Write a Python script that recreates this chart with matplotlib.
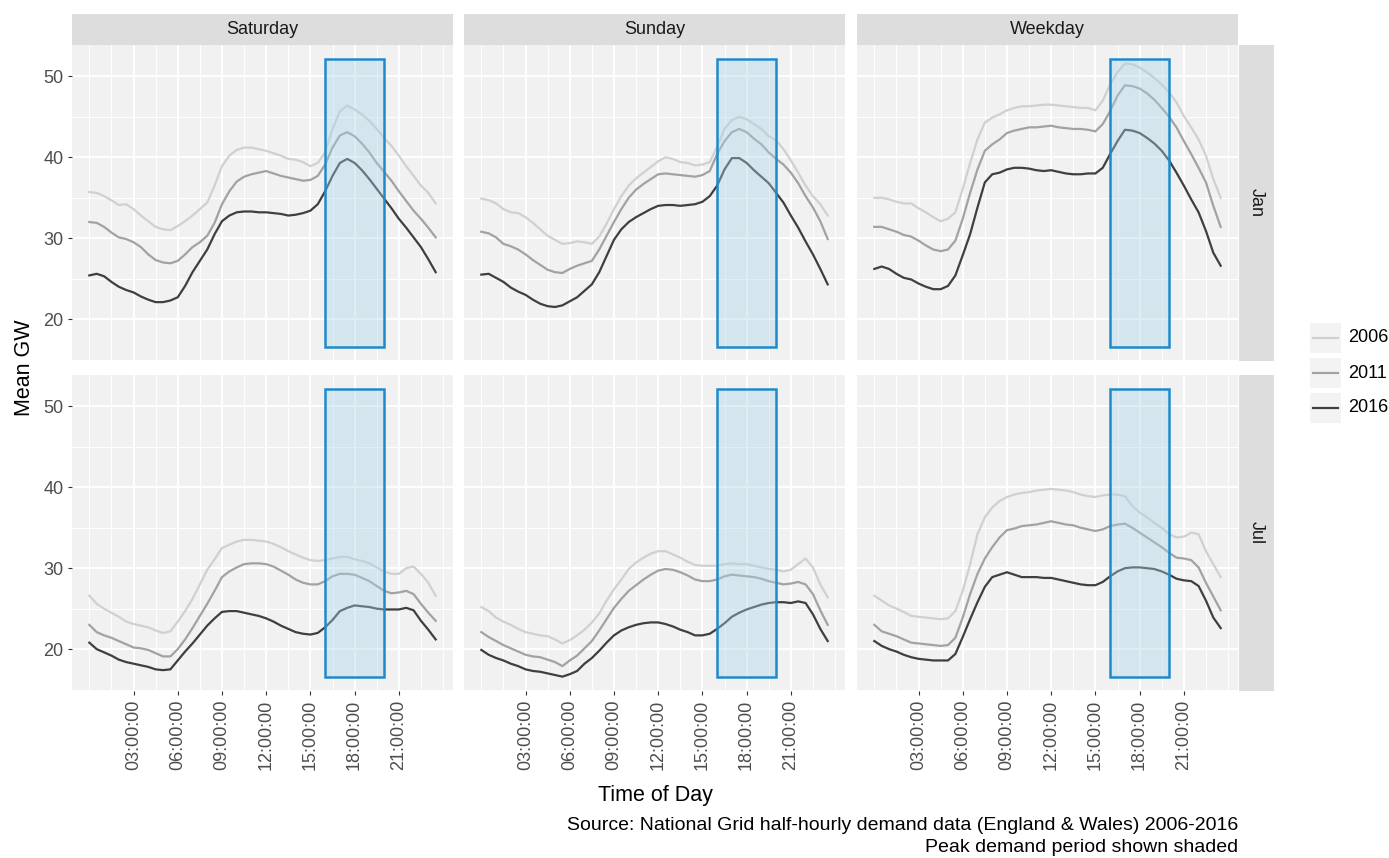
import numpy as np
import matplotlib
matplotlib.use("Agg")
import matplotlib.pyplot as plt
from matplotlib.patches import Rectangle

# half-hourly time of day (hours), 00:00 .. 23:30
hours = np.arange(0, 24, 0.5)

days = ["Saturday", "Sunday", "Weekday"]
months = ["Jan", "Jul"]
years = ["2006", "2011", "2016"]

# mean GW
sat_jan_2006 = [35.7, 35.6, 35.2, 34.7, 34.1, 34.2, 33.6, 32.8, 32.1, 31.4, 31.1, 31.0, 31.5, 32.1, 32.8, 33.6,
                34.4, 36.5, 38.9, 40.2, 40.9, 41.2, 41.2, 41.0, 40.8, 40.5, 40.2, 39.8, 39.7, 39.4, 38.9, 39.3,
                40.6, 43.5, 45.7, 46.4, 45.9, 45.3, 44.5, 43.5, 42.4, 41.4, 40.2, 38.9, 37.7, 36.5, 35.6, 34.3]
sat_jan_2011 = [32.0, 31.9, 31.4, 30.7, 30.1, 29.9, 29.5, 28.9, 28.0, 27.3, 27.0, 26.9, 27.2, 28.0, 28.9, 29.5,
                30.3, 31.9, 34.2, 35.8, 37.0, 37.6, 37.9, 38.1, 38.3, 38.0, 37.7, 37.5, 37.3, 37.1, 37.2, 37.7,
                39.1, 41.2, 42.7, 43.1, 42.6, 41.7, 40.6, 39.3, 38.2, 37.1, 35.8, 34.6, 33.4, 32.4, 31.3, 30.1]
sat_jan_2016 = [25.4, 25.6, 25.3, 24.6, 24.0, 23.6, 23.3, 22.8, 22.4, 22.1, 22.1, 22.3, 22.7, 24.1, 25.8, 27.2,
                28.6, 30.5, 32.1, 32.8, 33.2, 33.3, 33.3, 33.2, 33.2, 33.1, 33.0, 32.8, 32.9, 33.1, 33.4, 34.2,
                35.8, 37.7, 39.3, 39.8, 39.3, 38.4, 37.3, 36.1, 34.9, 33.7, 32.4, 31.3, 30.1, 28.9, 27.4, 25.8]

sun_jan_2006 = [34.9, 34.7, 34.3, 33.6, 33.2, 33.1, 32.6, 31.9, 31.1, 30.3, 29.8, 29.3, 29.4, 29.6, 29.5, 29.3,
                30.2, 31.8, 33.6, 35.2, 36.5, 37.4, 38.1, 38.8, 39.5, 40.0, 39.8, 39.4, 39.3, 39.0, 39.1, 39.4,
                41.3, 43.5, 44.6, 45.0, 44.7, 44.1, 43.5, 42.6, 42.1, 41.0, 39.6, 38.1, 36.5, 35.2, 34.2, 32.8]
sun_jan_2011 = [30.8, 30.6, 30.1, 29.3, 29.0, 28.6, 28.0, 27.3, 26.7, 26.1, 25.8, 25.7, 26.2, 26.6, 26.9, 27.2,
                28.6, 30.3, 32.0, 33.6, 35.0, 36.0, 36.7, 37.3, 37.9, 38.0, 37.9, 37.8, 37.7, 37.6, 37.8, 38.3,
                40.4, 42.0, 43.1, 43.5, 43.1, 42.3, 41.6, 40.6, 39.8, 39.1, 38.1, 36.8, 35.2, 33.8, 32.1, 29.9]
sun_jan_2016 = [25.5, 25.6, 25.1, 24.6, 23.9, 23.4, 23.0, 22.4, 21.9, 21.6, 21.5, 21.7, 22.2, 22.7, 23.5, 24.3,
                25.8, 27.8, 29.8, 31.1, 32.0, 32.6, 33.1, 33.6, 34.0, 34.1, 34.1, 34.0, 34.1, 34.2, 34.5, 35.2,
                36.5, 38.5, 39.9, 39.9, 39.3, 38.4, 37.6, 36.8, 35.6, 34.4, 32.8, 31.3, 29.6, 28.0, 26.2, 24.3]

wkd_jan_2006 = [35.0, 35.0, 34.8, 34.5, 34.3, 34.3, 33.7, 33.2, 32.6, 32.1, 32.4, 33.2, 36.1, 39.3, 42.2, 44.3,
                44.9, 45.3, 45.8, 46.1, 46.3, 46.3, 46.4, 46.5, 46.5, 46.4, 46.3, 46.2, 46.1, 46.1, 45.8, 47.0,
                49.0, 50.5, 51.6, 51.5, 51.1, 50.5, 49.8, 49.0, 48.0, 46.8, 45.1, 43.7, 42.2, 40.2, 37.3, 35.0]
wkd_jan_2011 = [31.4, 31.4, 31.1, 30.8, 30.4, 30.2, 29.7, 29.1, 28.6, 28.4, 28.6, 29.7, 32.4, 35.6, 38.5, 40.8,
                41.6, 42.2, 43.0, 43.3, 43.5, 43.7, 43.7, 43.8, 43.9, 43.7, 43.6, 43.5, 43.5, 43.4, 43.2, 44.1,
                45.7, 47.6, 48.9, 48.8, 48.5, 47.9, 47.1, 46.1, 45.0, 43.7, 42.0, 40.4, 38.7, 36.9, 34.0, 31.4]
wkd_jan_2016 = [26.2, 26.5, 26.2, 25.6, 25.1, 24.9, 24.4, 24.0, 23.7, 23.7, 24.1, 25.4, 27.9, 30.5, 33.8, 36.9,
                37.9, 38.1, 38.5, 38.7, 38.7, 38.6, 38.4, 38.3, 38.4, 38.2, 38.0, 37.9, 37.9, 38.0, 38.0, 38.7,
                40.4, 42.0, 43.4, 43.3, 43.0, 42.4, 41.7, 40.8, 39.6, 38.1, 36.5, 34.8, 33.2, 30.9, 28.2, 26.6]

sat_jul_2006 = [26.6, 25.6, 25.0, 24.5, 24.0, 23.4, 23.1, 22.9, 22.7, 22.3, 22.0, 22.2, 23.4, 24.7, 26.2, 28.0,
                29.8, 31.1, 32.5, 32.9, 33.3, 33.5, 33.5, 33.4, 33.3, 33.0, 32.6, 32.1, 31.7, 31.3, 31.0, 30.9,
                31.0, 31.2, 31.4, 31.4, 31.1, 30.9, 30.6, 30.1, 29.6, 29.3, 29.3, 30.0, 30.2, 29.3, 28.2, 26.6]
sat_jul_2011 = [23.0, 22.1, 21.7, 21.4, 21.0, 20.6, 20.2, 20.1, 19.9, 19.5, 19.1, 19.1, 20.0, 21.2, 22.6, 24.1,
                25.6, 27.2, 28.9, 29.6, 30.1, 30.5, 30.6, 30.6, 30.5, 30.2, 29.7, 29.2, 28.6, 28.2, 28.0, 28.0,
                28.4, 29.0, 29.3, 29.3, 29.2, 28.8, 28.4, 27.8, 27.2, 26.9, 27.0, 27.2, 26.8, 25.6, 24.5, 23.5]
sat_jul_2016 = [20.8, 20.0, 19.6, 19.2, 18.7, 18.4, 18.2, 18.0, 17.8, 17.5, 17.4, 17.5, 18.6, 19.7, 20.7, 21.8,
                22.9, 23.8, 24.6, 24.7, 24.7, 24.5, 24.3, 24.1, 23.8, 23.4, 22.9, 22.5, 22.1, 21.9, 21.8, 22.0,
                22.7, 23.6, 24.7, 25.1, 25.4, 25.3, 25.2, 25.0, 24.9, 24.9, 24.9, 25.1, 24.8, 23.5, 22.4, 21.2]

sun_jul_2006 = [25.2, 24.7, 23.9, 23.4, 23.0, 22.5, 22.1, 21.9, 21.7, 21.6, 21.2, 20.7, 21.1, 21.7, 22.4, 23.3,
                24.4, 26.0, 27.4, 28.6, 29.9, 30.7, 31.3, 31.8, 32.1, 32.1, 31.7, 31.3, 30.8, 30.4, 30.3, 30.3,
                30.3, 30.5, 30.6, 30.5, 30.5, 30.3, 30.1, 29.9, 29.8, 29.6, 29.8, 30.5, 31.2, 30.1, 28.0, 26.4]
sun_jul_2011 = [22.1, 21.5, 21.0, 20.5, 20.1, 19.7, 19.3, 19.1, 19.0, 18.7, 18.4, 17.9, 18.6, 19.2, 20.1, 21.0,
                22.3, 23.7, 25.1, 26.2, 27.2, 27.9, 28.6, 29.2, 29.7, 29.9, 29.8, 29.5, 29.1, 28.6, 28.4, 28.4,
                28.6, 29.0, 29.2, 29.1, 29.0, 28.9, 28.7, 28.4, 28.2, 28.0, 28.1, 28.3, 28.0, 26.8, 24.8, 23.0]
sun_jul_2016 = [19.9, 19.3, 18.9, 18.6, 18.2, 17.9, 17.5, 17.3, 17.2, 17.0, 16.8, 16.6, 16.9, 17.3, 18.2, 18.9,
                19.8, 20.8, 21.7, 22.3, 22.7, 23.0, 23.2, 23.3, 23.3, 23.1, 22.8, 22.4, 22.1, 21.7, 21.7, 21.9,
                22.5, 23.2, 24.0, 24.5, 24.9, 25.2, 25.5, 25.7, 25.8, 25.8, 25.7, 25.9, 25.7, 24.3, 22.5, 21.0]

wkd_jul_2006 = [26.6, 26.0, 25.4, 25.0, 24.6, 24.1, 24.0, 23.9, 23.8, 23.7, 23.8, 24.7, 27.2, 30.5, 34.2, 36.3,
                37.5, 38.3, 38.8, 39.1, 39.3, 39.4, 39.6, 39.7, 39.8, 39.7, 39.6, 39.4, 39.1, 38.9, 38.8, 39.0,
                39.1, 39.1, 38.9, 37.7, 36.9, 36.3, 35.6, 35.0, 34.2, 33.8, 33.9, 34.4, 34.2, 32.1, 30.5, 28.9]
wkd_jul_2011 = [23.0, 22.2, 21.9, 21.6, 21.2, 20.8, 20.7, 20.6, 20.5, 20.4, 20.5, 21.4, 23.9, 26.8, 29.3, 31.2,
                32.6, 33.8, 34.7, 34.9, 35.2, 35.3, 35.4, 35.6, 35.8, 35.6, 35.4, 35.3, 35.0, 34.8, 34.6, 34.8,
                35.2, 35.4, 35.5, 35.0, 34.4, 33.8, 33.2, 32.6, 31.9, 31.3, 31.2, 31.0, 30.1, 28.2, 26.5, 24.8]
wkd_jul_2016 = [21.0, 20.4, 20.0, 19.7, 19.3, 19.0, 18.8, 18.7, 18.6, 18.6, 18.6, 19.4, 21.5, 23.7, 25.8, 27.7,
                28.9, 29.2, 29.5, 29.2, 28.9, 28.9, 28.9, 28.8, 28.8, 28.6, 28.4, 28.2, 28.0, 27.9, 27.9, 28.3,
                29.0, 29.6, 30.0, 30.1, 30.1, 30.0, 29.9, 29.6, 29.2, 28.7, 28.5, 28.4, 27.8, 26.0, 23.9, 22.6]

demand = {
    ("Jan", "Saturday"): [sat_jan_2006, sat_jan_2011, sat_jan_2016],
    ("Jan", "Sunday"): [sun_jan_2006, sun_jan_2011, sun_jan_2016],
    ("Jan", "Weekday"): [wkd_jan_2006, wkd_jan_2011, wkd_jan_2016],
    ("Jul", "Saturday"): [sat_jul_2006, sat_jul_2011, sat_jul_2016],
    ("Jul", "Sunday"): [sun_jul_2006, sun_jul_2011, sun_jul_2016],
    ("Jul", "Weekday"): [wkd_jul_2006, wkd_jul_2011, wkd_jul_2016],
}

# peak demand window (shaded)
peak_start, peak_end = 16, 20
shade_lo, shade_hi = 16.6, 52.1

x_breaks = [3, 6, 9, 12, 15, 18, 21]
x_labels = ["03:00:00", "06:00:00", "09:00:00", "12:00:00", "15:00:00", "18:00:00", "21:00:00"]
y_breaks = [20, 30, 40, 50]

year_colors = ["#D0D0D0", "#A2A2A2", "#3F3F3F"]

plt.rcParams["font.family"] = ["Liberation Sans", "DejaVu Sans"]

W, H = 1389, 858
fig = plt.figure(figsize=(W / 100, H / 100), dpi=100)
fig.patch.set_facecolor("white")


def box(x0, y0, x1, y1):
    return [x0 / W, 1 - y1 / H, (x1 - x0) / W, (y1 - y0) / H]


cols = [(72, 453), (464, 845), (857, 1238)]
rows = [(45, 361), (375, 691)]

ypad = 0.05 * (shade_hi - shade_lo)
ylim = (shade_lo - ypad, shade_hi + ypad)
xlim = (-0.05 * hours[-1], hours[-1] * 1.05)
x_minor = np.arange(0, 24.01, 1.5)
y_minor = [15, 25, 35, 45]

for r, month in enumerate(months):
    for c, day in enumerate(days):
        ax = fig.add_axes(box(cols[c][0], rows[r][0], cols[c][1], rows[r][1]))
        ax.set_facecolor("#F1F1F1")
        for s in ax.spines.values():
            s.set_visible(False)

        for v in x_minor:
            ax.axvline(v, color="white", lw=0.7, zorder=1)
        for v in y_minor:
            ax.axhline(v, color="white", lw=0.7, zorder=1)
        for v in x_breaks:
            ax.axvline(v, color="white", lw=1.4, zorder=1)
        for v in y_breaks:
            ax.axhline(v, color="white", lw=1.4, zorder=1)

        for vals, col in zip(demand[(month, day)], year_colors):
            ax.plot(hours, vals, color=col, lw=1.6, zorder=2)

        ax.add_patch(Rectangle((peak_start, shade_lo), peak_end - peak_start, shade_hi - shade_lo,
                               facecolor=(0.66, 0.83, 0.91, 0.38), edgecolor="#1F8ACB",
                               lw=1.8, zorder=3))

        ax.set_xlim(xlim)
        ax.set_ylim(ylim)
        ax.set_xticks(x_breaks)
        ax.set_yticks(y_breaks)
        ax.tick_params(length=3, width=0.8, color="#333333", labelsize=13,
                       labelcolor="#4D4D4D", pad=3)
        if r == 1:
            ax.set_xticklabels(x_labels, rotation=90)
        else:
            ax.tick_params(axis="x", bottom=False, labelbottom=False)
        if c != 0:
            ax.tick_params(axis="y", left=False, labelleft=False)

        if r == 0:
            st = fig.add_axes(box(cols[c][0], 14, cols[c][1], 45))
            st.set_facecolor("#DDDDDD")
            st.set_xticks([])
            st.set_yticks([])
            for s in st.spines.values():
                s.set_visible(False)
            st.text(0.5, 0.5, day, ha="center", va="center", fontsize=13, color="#1A1A1A",
                    transform=st.transAxes)

    rs = fig.add_axes(box(1239, rows[r][0], 1274, rows[r][1]))
    rs.set_facecolor("#DDDDDD")
    rs.set_xticks([])
    rs.set_yticks([])
    for s in rs.spines.values():
        s.set_visible(False)
    rs.text(0.5, 0.5, month, ha="center", va="center", rotation=-90, fontsize=13,
            color="#1A1A1A", transform=rs.transAxes)

# overlay in pixel coordinates for legend and titles
ov = fig.add_axes([0, 0, 1, 1])
ov.set_xlim(0, W)
ov.set_ylim(H, 0)
ov.axis("off")

for i, (yr, col) in enumerate(zip(years, year_colors)):
    yc = 338 + 35 * i
    ov.add_patch(Rectangle((1310, yc - 15), 31, 30, facecolor="#F3F3F3", edgecolor="none"))
    ov.plot([1313, 1338], [yc, yc], color=col, lw=1.6)
    ov.text(1348, yc, yr, ha="left", va="center", fontsize=13, color="black")

ov.text(25, 368, "Mean GW", rotation=90, ha="center", va="center", fontsize=15.5)
ov.text(655, 795, "Time of Day", ha="center", va="center", fontsize=15.5)
ov.text(1238, 826, "Source: National Grid half-hourly demand data (England & Wales) 2006-2016",
        ha="right", va="center", fontsize=14)
ov.text(1238, 848, "Peak demand period shown shaded", ha="right", va="center", fontsize=14)

fig.savefig("out.png", dpi=100)
